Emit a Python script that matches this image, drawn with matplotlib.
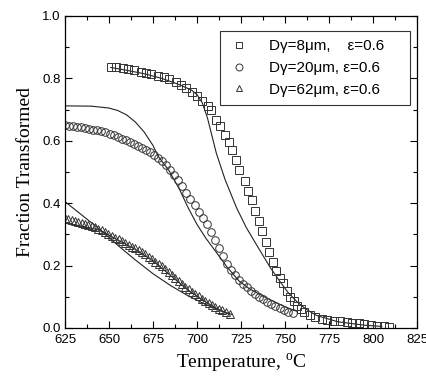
import numpy as np
import matplotlib
matplotlib.use("Agg")
import matplotlib.pyplot as plt

plt.rcParams['font.family'] = ['Liberation Sans', 'DejaVu Sans']
plt.rcParams['mathtext.fontset'] = 'custom'
plt.rcParams['mathtext.rm'] = 'Liberation Serif'

# data
# D=8um squares
t_sq = [651, 654, 658, 661, 664, 668, 671, 674, 678, 681, 684, 688, 691, 694, 697, 700,
        703, 706, 708, 711, 713, 716, 718, 720, 722, 724, 727, 729, 731, 733, 735, 737,
        739, 741, 743, 745, 747, 749, 751, 753, 755, 757, 759, 761, 764, 767, 771, 774,
        778, 781, 785, 788, 792, 795, 799, 802, 806, 809]
f_sq = [0.837, 0.835, 0.832, 0.829, 0.826, 0.822, 0.818, 0.814, 0.809, 0.803, 0.797, 0.789, 0.780, 0.770, 0.757, 0.742,
        0.728, 0.712, 0.698, 0.668, 0.646, 0.620, 0.595, 0.570, 0.537, 0.505, 0.470, 0.440, 0.410, 0.376, 0.342, 0.310,
        0.276, 0.245, 0.213, 0.184, 0.160, 0.143, 0.120, 0.100, 0.085, 0.071, 0.060, 0.051, 0.042, 0.035, 0.030, 0.026,
        0.023, 0.021, 0.019, 0.017, 0.015, 0.013, 0.010, 0.008, 0.006, 0.004]

# D=20um circles
t_ci = [625, 627.3, 629.6, 631.9, 634.2, 636.5, 638.8, 641.1, 643.4, 645.7, 648, 650.3, 652.6, 654.9,
        657.2, 659.5, 661.8, 664.1, 666.4, 668.7, 671, 673.3, 675.6, 677.9, 680.2, 682.5, 684.8, 687.1,
        689.4, 691.7, 694, 696.3, 698.6, 700.9, 703.2, 705.5, 707.8, 710.1, 712.4, 714.7, 717, 719.3,
        721.6, 723.9, 726.2, 728.5, 730.8, 733.1, 735.4, 737.7, 740, 742.3, 744.6, 746.9, 749.2, 751.5, 754.8]
f_ci = [0.650, 0.648, 0.647, 0.645, 0.643, 0.641, 0.639, 0.636, 0.634, 0.631, 0.627, 0.623, 0.618, 0.613,
        0.607, 0.601, 0.596, 0.590, 0.584, 0.578, 0.571, 0.564, 0.556, 0.546, 0.534, 0.522, 0.508, 0.491,
        0.474, 0.455, 0.434, 0.414, 0.393, 0.372, 0.352, 0.332, 0.307, 0.281, 0.256, 0.231, 0.206, 0.187,
        0.170, 0.154, 0.141, 0.130, 0.119, 0.110, 0.100, 0.092, 0.084, 0.076, 0.069, 0.063, 0.058, 0.052, 0.047]

# D=62um triangles
t_tr = [625, 626.9, 628.8, 630.7, 632.6, 634.5, 636.4, 638.3, 640.2, 642.1, 644, 645.9, 647.8, 649.7,
        651.6, 653.5, 655.4, 657.3, 659.2, 661.1, 663, 664.9, 666.8, 668.7, 670.6, 672.5, 674.4, 676.3,
        678.2, 680.1, 682, 683.9, 685.8, 687.7, 689.6, 691.5, 693.4, 695.3, 697.2, 699.1, 701, 702.9,
        704.8, 706.7, 708.6, 710.5, 712.4, 714.3, 716.2, 718.5]
f_tr = [0.352, 0.349, 0.346, 0.343, 0.340, 0.337, 0.334, 0.331, 0.327, 0.323, 0.318, 0.313, 0.307, 0.301,
        0.296, 0.290, 0.284, 0.278, 0.273, 0.267, 0.261, 0.255, 0.249, 0.242, 0.236, 0.228, 0.221, 0.213,
        0.206, 0.198, 0.189, 0.179, 0.169, 0.160, 0.151, 0.142, 0.133, 0.124, 0.116, 0.108, 0.101, 0.094,
        0.087, 0.080, 0.074, 0.068, 0.062, 0.057, 0.052, 0.046]

# model curves
t_m1 = [651, 660, 670, 680, 690, 697, 700, 703, 706, 711, 716, 722.5, 728, 734, 741.5, 747, 752, 757, 762, 768, 780, 795, 805]
f_m1 = [0.835, 0.826, 0.815, 0.800, 0.780, 0.762, 0.748, 0.722, 0.672, 0.560, 0.475, 0.385, 0.322, 0.265, 0.195, 0.150, 0.112, 0.083, 0.060, 0.040, 0.020, 0.009, 0.005]
t_m2 = [625, 640, 650, 655, 660, 665, 670, 675, 678, 684, 690, 695, 700, 705, 710, 717, 724, 730, 740, 750, 756]
f_m2 = [0.712, 0.711, 0.705, 0.697, 0.683, 0.660, 0.628, 0.585, 0.550, 0.505, 0.445, 0.385, 0.332, 0.288, 0.250, 0.196, 0.150, 0.125, 0.095, 0.068, 0.055]
t_m3 = [625, 635, 645, 655, 665, 675, 685, 695, 705, 715, 720]
f_m3 = [0.405, 0.360, 0.315, 0.265, 0.218, 0.174, 0.136, 0.103, 0.075, 0.052, 0.043]
t_m4 = [625, 635, 645, 655, 665, 675, 685, 695, 705, 712, 718]
f_m4 = [0.336, 0.326, 0.313, 0.282, 0.252, 0.215, 0.168, 0.121, 0.083, 0.060, 0.045]

labels = ['D\u03b3=8\u03bcm,    \u03b5=0.6    ',
          'D\u03b3=20\u03bcm, \u03b5=0.6    ',
          'D\u03b3=62\u03bcm, \u03b5=0.6    ']

fig = plt.figure(figsize=(4.27, 3.82), dpi=100)
ax = fig.add_axes([65/427, 54/382, 352/427, 312/382])

lc = '#222222'
for t, f in [(t_m1, f_m1), (t_m2, f_m2), (t_m3, f_m3), (t_m4, f_m4)]:
    ax.plot(t, f, color=lc, lw=0.8)

mk = dict(ls='none', mfc='none', mec='#333333', mew=0.7, ms=5.5)
ax.plot(t_sq, f_sq, marker='s', label=labels[0], **mk)
ax.plot(t_ci, f_ci, marker='o', label=labels[1], **mk)
ax.plot(t_tr, f_tr, marker='^', label=labels[2], **mk)

ax.set_xlim(625, 825)
ax.set_ylim(0, 1.0)
ax.set_xticks(np.arange(625, 826, 25))
ax.set_xticks(np.arange(637.5, 825, 25), minor=True)
ax.set_yticks(np.arange(0, 1.01, 0.2))
ax.set_yticks(np.arange(0.1, 1.0, 0.2), minor=True)
ax.yaxis.set_major_formatter(matplotlib.ticker.FormatStrFormatter('%.1f'))
ax.tick_params(which='both', direction='in', top=True, right=True, labelsize=9.5, width=0.8)
ax.tick_params(axis='x', pad=4)
ax.tick_params(axis='y', pad=3)
ax.tick_params(which='major', length=5)
ax.tick_params(which='minor', length=3)
for s in ax.spines.values():
    s.set_linewidth(0.9)

ax.set_xlabel('Temperature, $^{\\mathrm{o}}$C', family='Liberation Serif', fontsize=14, labelpad=4)
ax.set_ylabel('Fraction Transformed', family='Liberation Serif', fontsize=14, labelpad=6)

leg = ax.legend(loc='upper right', bbox_to_anchor=(410/427, 351/382), bbox_transform=fig.transFigure,
                fancybox=False, edgecolor='black', fontsize=11, handlelength=1.4,
                handletextpad=1.3, borderpad=0.55, labelspacing=0.5, borderaxespad=0)
leg.get_frame().set_linewidth(0.8)
for h in leg.legend_handles:
    h.set_markersize(5)

fig.savefig('out.png', dpi=100)
